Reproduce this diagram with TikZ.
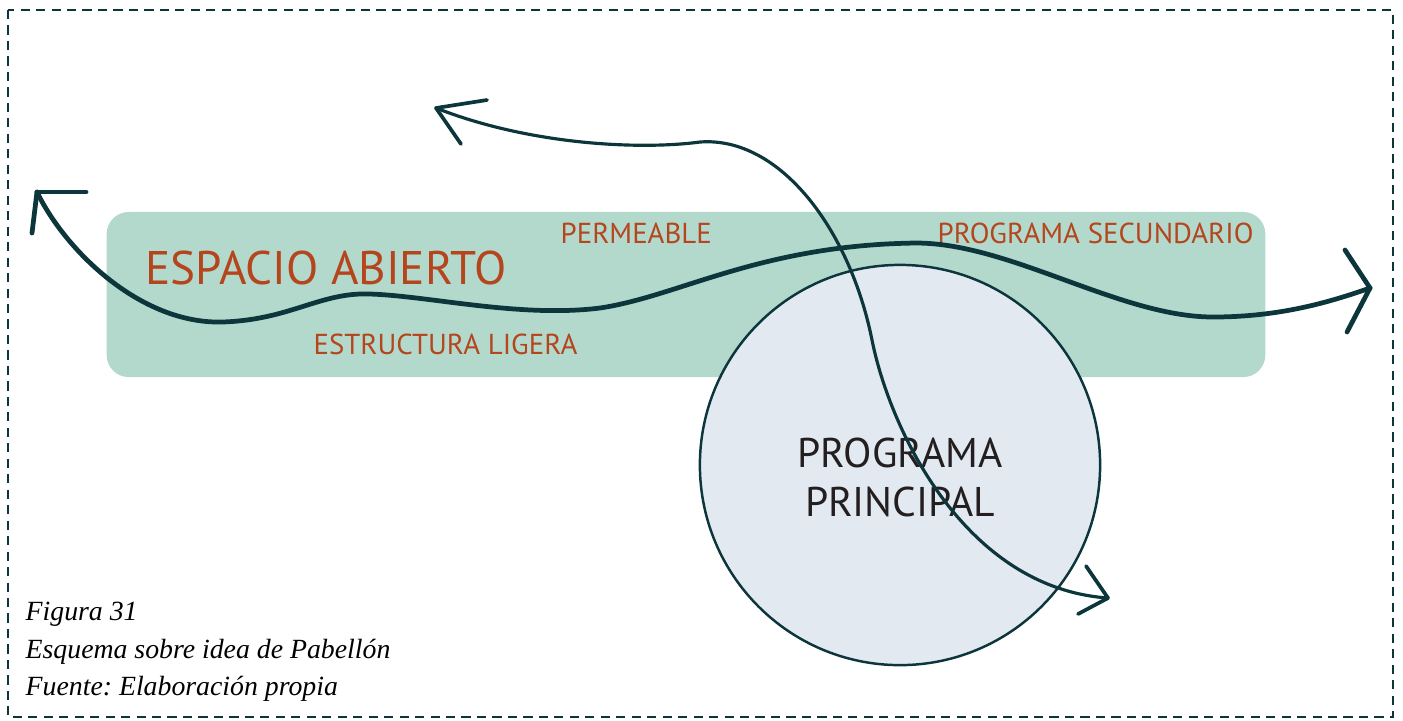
\documentclass[tikz,border=0pt]{standalone}
\usepackage{fontspec}
\setmainfont{PT Sans}
\newfontfamily\captionfont{Liberation Serif}
\frenchspacing
\definecolor{lineteal}{HTML}{0C363C}
\definecolor{bandgreen}{HTML}{B3D9CC}
\definecolor{labelred}{HTML}{B5451D}
\definecolor{circlegray}{HTML}{E3E9F0}
\definecolor{inkblack}{HTML}{231F20}
\tikzset{
  redlabel/.style={text=labelred, anchor=base west, inner sep=0pt, font=\fontsize{8.2}{10}\selectfont},
  captionline/.style={anchor=base west, inner sep=0pt, text=black, font=\captionfont\itshape\fontsize{7.9}{10}\selectfont},
  thickflow/.style={draw=lineteal, line width=1.35pt, line cap=round},
  thinflow/.style={draw=lineteal, line width=0.9pt, line cap=round},
}
\begin{document}
\begin{tikzpicture}[x=0.01cm, y=-0.01cm]
\useasboundingbox (0,0) rectangle (1403,720);
\draw[lineteal, line width=0.55pt, dash pattern=on 2.6pt off 1.8pt] (8,10) rectangle (1393,717);
\node[rectangle, rounded corners=0.22cm, fill=bandgreen, minimum width=11.58cm, minimum height=1.65cm, inner sep=0pt] (band) at (686,294.5) {};
\node[circle, draw=lineteal, line width=0.7pt, fill=circlegray, minimum size=4cm, inner sep=0pt] (principal) at (900,465) {};
\node[redlabel, font=\fontsize{13.4}{16}\selectfont] (espacio) at (145,284) {ESPACIO ABIERTO};
\node[redlabel] (permeable) at (560,243) {PERMEABLE};
\node[redlabel] (secundario) at (937,243) {PROGRAMA SECUNDARIO};
\node[redlabel] (estructura) at (313,354) {ESTRUCTURA LIGERA};
\node[anchor=base, inner sep=0pt, text=inkblack, font=\fontsize{11.8}{14}\selectfont] (programa) at (900,467) {PROGRAMA};
\node[anchor=base, inner sep=0pt, text=inkblack, font=\fontsize{11.8}{14}\selectfont] (principaltxt) at (900,516) {PRINCIPAL};
\coordinate (tipleft) at (37,192);
\coordinate (tipright) at (1370,288);
\coordinate (tiptop) at (436,108);
\coordinate (tipdown) at (1108,598);
\draw[thickflow] (tipleft) .. controls (65,250) and (140,324) .. (222,322)
  .. controls (290,320) and (320,292) .. (370,294)
  .. controls (430,296) and (520,318) .. (600,308)
  .. controls (680,296) and (760,245) .. (916,243)
  .. controls (1010,243) and (1120,317) .. (1213,317)
  .. controls (1280,317) and (1330,302) .. (tipright);
\draw[thickflow] (tipleft) -- ++(49,0);
\draw[thickflow] (tipleft) -- ++(-5,41);
\draw[thickflow] (tipright) -- ++(-25,-38);
\draw[thickflow] (tipright) -- ++(-23,44);
\draw[thinflow] (tiptop) .. controls (530,145) and (640,150) .. (700,142)
  .. controls (780,136) and (850,230) .. (872,340)
  .. controls (890,430) and (965,588) .. (tipdown);
\draw[thinflow, line width=1.05pt] (tiptop) -- ++(51,-8);
\draw[thinflow, line width=1.05pt] (tiptop) -- ++(25,36);
\draw[thinflow, line width=1.05pt] (tipdown) -- ++(-22,-32);
\draw[thinflow, line width=1.05pt] (tipdown) -- ++(-30,16);
\node[captionline] (figura) at (25,620) {Figura 31};
\node[captionline] (esquema) at (25,658) {Esquema sobre idea de Pabellón};
\node[captionline] (fuente) at (25,695) {Fuente: Elaboración propia};
\end{tikzpicture}
\end{document}
